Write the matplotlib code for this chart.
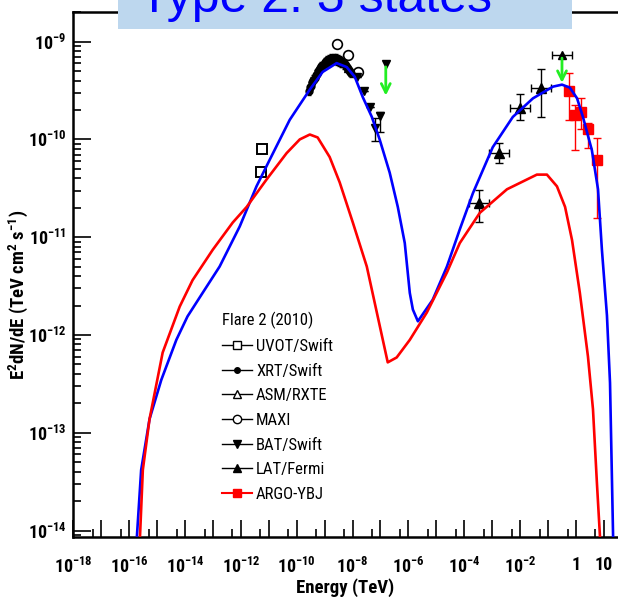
import os
import numpy as np
import matplotlib
matplotlib.use("Agg")
import matplotlib.pyplot as plt
from matplotlib.lines import Line2D
from matplotlib.patches import Rectangle
from matplotlib import font_manager as fm
from matplotlib.font_manager import FontProperties
from matplotlib.ticker import FixedLocator, FixedFormatter, NullFormatter

plt.rcParams["mathtext.default"] = "regular"


def find_narrow(bold):
    """Locate a narrow sans font file (regular or bold), best candidates first."""
    order = ["liberationsansnarrow", "arialnarrow", "notosans-condensed", "robotocondensed",
             "opensanscondensed", "opensans_condensed", "lato-condensed"]
    found = {}
    for f in fm.fontManager.ttflist:
        fn = os.path.basename(f.fname).lower().replace(" ", "")
        if "italic" in fn or "oblique" in fn:
            continue
        is_bold = "bold" in fn and "semibold" not in fn and "extrabold" not in fn
        if is_bold != bold:
            continue
        if not bold and any(w in fn for w in ("light", "thin", "medium", "black", "semibold")):
            continue
        for i, key in enumerate(order):
            if key in fn:
                found.setdefault(i, f.fname)
    if found:
        return FontProperties(fname=found[min(found)])
    return None


_nb = find_narrow(True)
_nr = find_narrow(False)
NARROW_OK = _nb is not None
BOLD_FP = _nb if NARROW_OK else FontProperties(family="Liberation Sans", weight="bold")
REG_FP = _nr if _nr is not None else FontProperties(family="Liberation Sans")

# ---- model curves: log10(E / TeV), log10(E^2 dN/dE / TeV cm^-2 s^-1) ----
blue_logE = [-15.72, -15.57, -15.27, -14.85, -14.31, -13.91, -13.37, -12.76,
             -12.04, -11.44, -10.97, -10.25, -9.53, -9.07, -8.57, -8.21,
             -7.92, -7.63, -7.31, -7.03, -6.67, -6.38, -6.13, -5.95, -5.84,
             -5.66, -5.13, -4.62, -4.16, -3.69, -2.98, -2.26, -1.54, -0.82,
             -0.50, -0.22, 0.04, 0.25, 0.57, 0.79, 0.93, 1.11, 1.22, 1.33]
blue_logF = [-14.05, -13.38, -12.86, -12.46, -12.05, -11.81, -11.57, -11.30,
             -10.89, -10.48, -10.21, -9.80, -9.49, -9.31, -9.22, -9.26,
             -9.36, -9.57, -9.77, -10.00, -10.34, -10.69, -11.06, -11.57, -11.74,
             -11.86, -11.64, -11.30, -10.92, -10.55, -10.08, -9.77, -9.58, -9.46,
             -9.44, -9.47, -9.58, -9.77, -10.11, -10.51, -11.13, -11.80, -12.49, -14.06]

red_logE = [-15.61, -15.51, -15.27, -14.80, -14.19, -13.73, -13.01, -12.29,
            -11.79, -11.08, -10.36, -9.89, -9.53, -9.25, -8.82, -8.46, -7.99,
            -7.49, -7.10, -6.74, -6.42, -5.95, -5.34, -4.62, -4.16, -3.44,
            -2.47, -1.40, -1.04, -0.68, -0.39, -0.14, 0.14, 0.43, 0.61, 0.75, 0.86]
red_logF = [-14.05, -13.38, -12.86, -12.18, -11.71, -11.44, -11.13, -10.85,
            -10.69, -10.41, -10.14, -10.00, -9.95, -9.98, -10.18, -10.44, -10.85,
            -11.30, -11.81, -12.28, -12.23, -12.05, -11.77, -11.36, -11.06, -10.75,
            -10.51, -10.36, -10.36, -10.48, -10.69, -11.03, -11.57, -12.22, -12.76, -13.51, -14.06]

# ---- measurements ----
uvot_logE = [-11.25, -11.27]
uvot_logF = [-10.10, -10.33]

xrt_logE = [-9.56, -9.52, -9.48, -9.44, -9.40, -9.36, -9.32, -9.28, -9.24, -9.20,
            -9.16, -9.12, -9.08, -9.04, -9.00, -8.96, -8.92, -8.88, -8.84, -8.80,
            -8.76, -8.72, -8.68, -8.64, -8.60, -8.56, -8.52, -8.48, -8.44, -8.40,
            -8.36, -8.32, -8.28, -8.24, -8.20, -8.16, -8.12, -8.08, -8.04]
xrt_logF = [-9.50, -9.46, -9.45, -9.41, -9.39, -9.37, -9.34, -9.33, -9.30, -9.29,
            -9.27, -9.25, -9.25, -9.23, -9.21, -9.21, -9.19, -9.20, -9.18, -9.19,
            -9.17, -9.18, -9.17, -9.18, -9.17, -9.19, -9.18, -9.20, -9.19, -9.21,
            -9.21, -9.23, -9.23, -9.25, -9.26, -9.28, -9.29, -9.31, -9.32]
xrt_err = 0.045

asm_logE = [-8.55, -8.35, -8.15]
asm_logF = [-9.19, -9.21, -9.27]

maxi_logE = [-8.57, -8.17, -7.81]
maxi_logF = [-9.02, -9.14, -9.31]

bat_logE = [-7.85, -7.60, -7.38, -7.20, -7.03]
bat_logF = [-9.36, -9.50, -9.67, -9.88, -9.76]
bat_lo = [0.0, 0.0, 0.0, 0.14, 0.16]
bat_hi = [0.0, 0.0, 0.0, 0.10, 0.04]
bat_ul_logE = -6.81
bat_ul_logF = -9.23
bat_ul_tip = -9.58

lat_logE = [-3.48, -2.76, -2.01, -1.25]
lat_logF = [-10.65, -10.14, -9.68, -9.47]
lat_lo = [0.19, 0.10, 0.12, 0.30]
lat_hi = [0.13, 0.10, 0.14, 0.19]
lat_xhw = 0.36
lat_ul_logE = -0.50
lat_ul_logF = -9.14
lat_ul_tip = -9.45

argo_logE = [-0.24, -0.04, 0.18, 0.44, 0.74]
argo_logF = [-9.50, -9.75, -9.72, -9.89, -10.21]
argo_lo = [0.30, 0.36, 0.17, 0.20, 0.59]
argo_hi = [0.18, 0.10, 0.14, 0.06, 0.22]

legend_names = ["UVOT/Swift", "XRT/Swift", "ASM/RXTE", "MAXI", "BAT/Swift", "LAT/Fermi", "ARGO-YBJ"]

W, H = 618, 597
fx = lambda px: px / W
fy = lambda py: 1 - py / H

fig = plt.figure(figsize=(W / 100, H / 100), dpi=100)
ax = fig.add_axes([fx(73.3), fy(537), (631.8 - 73.3) / W, (537 - 12) / H])
ax.set_xscale("log")
ax.set_yscale("log")
ax.set_xlim(1e-18, 1e2)
ax.set_ylim(10 ** -14.066, 10 ** -8.697)

p = lambda v: 10.0 ** np.asarray(v, dtype=float)


def yerr(logF, lo, hi):
    f = p(logF)
    return [f - p(np.asarray(logF) - np.asarray(lo)), p(np.asarray(logF) + np.asarray(hi)) - f]


# data points
ax.plot(p(uvot_logE), p(uvot_logF), ls="none", marker="s", ms=6.5, mfc="white",
        mec="black", mew=1.4, zorder=3)
ax.plot(p(asm_logE), p(asm_logF), ls="none", marker="^", ms=6, mfc="white",
        mec="black", mew=1.0, zorder=2)
ax.errorbar(p(xrt_logE), p(xrt_logF), yerr=yerr(xrt_logF, [xrt_err] * len(xrt_logF),
            [xrt_err] * len(xrt_logF)), fmt="o", ms=5, color="black", lw=1.2,
            capsize=1.5, zorder=3)
ax.plot(p(maxi_logE), p(maxi_logF), ls="none", marker="o", ms=7, mfc="white",
        mec="black", mew=1.2, zorder=3)
ax.errorbar(p(bat_logE), p(bat_logF), yerr=yerr(bat_logF, bat_lo, bat_hi), fmt="v",
            ms=6, color="black", lw=1.0, capsize=3, zorder=3)
ax.plot([p(bat_ul_logE)], [p(bat_ul_logF)], ls="none", marker="v", ms=6, color="black", zorder=3)
ax.annotate("", xy=(p(bat_ul_logE), p(bat_ul_tip)), xytext=(p(bat_ul_logE), p(bat_ul_logF)),
            arrowprops=dict(arrowstyle="->", color="#22ee22", lw=2.0, mutation_scale=16),
            zorder=4)

lat_x = p(lat_logE)
lat_xerr = [lat_x - p(np.array(lat_logE) - lat_xhw), p(np.array(lat_logE) + lat_xhw) - lat_x]
ax.errorbar(lat_x, p(lat_logF), xerr=lat_xerr, yerr=yerr(lat_logF, lat_lo, lat_hi),
            fmt="^", ms=7, color="black", lw=1.0, capsize=3, zorder=3)
ulx = p(lat_ul_logE)
ax.errorbar([ulx], [p(lat_ul_logF)],
            xerr=[[ulx - p(lat_ul_logE - lat_xhw)], [p(lat_ul_logE + lat_xhw) - ulx]],
            fmt="^", ms=6, color="black", lw=1.0, capsize=3, zorder=3)
ax.annotate("", xy=(ulx, p(lat_ul_tip)), xytext=(ulx, p(lat_ul_logF)),
            arrowprops=dict(arrowstyle="->", color="#22ee22", lw=2.0, mutation_scale=16),
            zorder=4)

ax.errorbar(p(argo_logE), p(argo_logF), yerr=yerr(argo_logF, argo_lo, argo_hi), fmt="s",
            ms=7, color="#ff0000", lw=1.0, capsize=3, zorder=3)

# model curves
ax.plot(p(blue_logE), p(blue_logF), color="#0000ff", lw=1.9, zorder=5)
ax.plot(p(red_logE), p(red_logF), color="#ff0000", lw=1.9, zorder=5)

# axes styling
for s in ax.spines.values():
    s.set_linewidth(1.8)
    s.set_color("black")

xk = list(range(-18, 2))
xlabels = []
for k in xk:
    if k == 0:
        xlabels.append("1")
    elif k == 1:
        xlabels.append("10")
    elif k % 2 == 0:
        xlabels.append(r"$10^{%d}$" % k)
    else:
        xlabels.append("")
ax.xaxis.set_major_locator(FixedLocator([10.0 ** k for k in xk]))
ax.xaxis.set_major_formatter(FixedFormatter(xlabels))
ax.xaxis.set_minor_locator(FixedLocator([5 * 10.0 ** k for k in range(-19, 2)]))
ax.xaxis.set_minor_formatter(NullFormatter())

yk = list(range(-14, -8))
ax.yaxis.set_major_locator(FixedLocator([10.0 ** k for k in yk]))
ax.yaxis.set_major_formatter(FixedFormatter([r"$10^{%d}$" % k for k in yk]))
ax.yaxis.set_minor_locator(FixedLocator([m * 10.0 ** k for k in range(-15, -8) for m in range(2, 10)]))
ax.yaxis.set_minor_formatter(NullFormatter())

TICK_SIZE = 13 if NARROW_OK else 11.5
ax.tick_params(which="both", direction="in", top=False, right=False, color="black")
ax.tick_params(axis="x", which="major", length=12, width=1.2, pad=14)
ax.tick_params(axis="x", which="minor", length=6, width=1.2)
ax.tick_params(axis="y", which="major", length=13, width=1.2, pad=5)
ax.tick_params(axis="y", which="minor", length=6, width=1.2)
for lab in ax.get_xticklabels() + ax.get_yticklabels():
    lab.set_fontproperties(BOLD_FP)
    lab.set_fontsize(TICK_SIZE)

fig.text(fx(345), fy(593), "Energy (TeV)", fontproperties=BOLD_FP,
         fontsize=13.5 if NARROW_OK else 12, ha="center", va="baseline")
fig.text(fx(18.5), fy(295), r"E$^2$dN/dE (TeV cm$^2$ s$^{-1}$)", fontproperties=BOLD_FP,
         fontsize=13.5 if NARROW_OK else 11.5, rotation=90, ha="center", va="center")

# legend
handles = [
    Line2D([], [], color="black", lw=1.0, marker="s", ms=6, mfc="white", mec="black"),
    Line2D([], [], color="black", lw=1.0, marker="o", ms=4, mfc="black", mec="black"),
    Line2D([], [], color="black", lw=1.0, marker="^", ms=6, mfc="white", mec="black"),
    Line2D([], [], color="black", lw=1.0, marker="o", ms=6, mfc="white", mec="black"),
    Line2D([], [], color="black", lw=1.0, marker="v", ms=6, mfc="black", mec="black"),
    Line2D([], [], color="black", lw=1.0, marker="^", ms=6, mfc="black", mec="black"),
    Line2D([], [], color="#ff0000", lw=1.5, marker="s", ms=6, mfc="#ff0000", mec="#ff0000"),
]
leg_fp = REG_FP.copy()
leg_fp.set_size(12 if _nr is not None else 11)
leg = ax.legend(handles, legend_names, title="Flare 2 (2010)", loc="upper left",
                bbox_to_anchor=(fx(222), fy(312)), bbox_transform=fig.transFigure,
                frameon=False, borderpad=0, borderaxespad=0, handlelength=1.8,
                handletextpad=0.25, labelspacing=0.58, alignment="left",
                prop=leg_fp, title_fontproperties=leg_fp)

# header banner
fig.patches.append(Rectangle((fx(118), fy(29)), (572 - 118) / W, 29 / H + 0.01,
                             transform=fig.transFigure, facecolor="#bdd7ee",
                             edgecolor="none", zorder=10))
fig.text(fx(139), fy(12), "Type 2: 3 states", family="Liberation Sans", fontsize=36,
         color="#0000ff", ha="left", va="baseline", zorder=11)

fig.savefig("out.png", dpi=100)
